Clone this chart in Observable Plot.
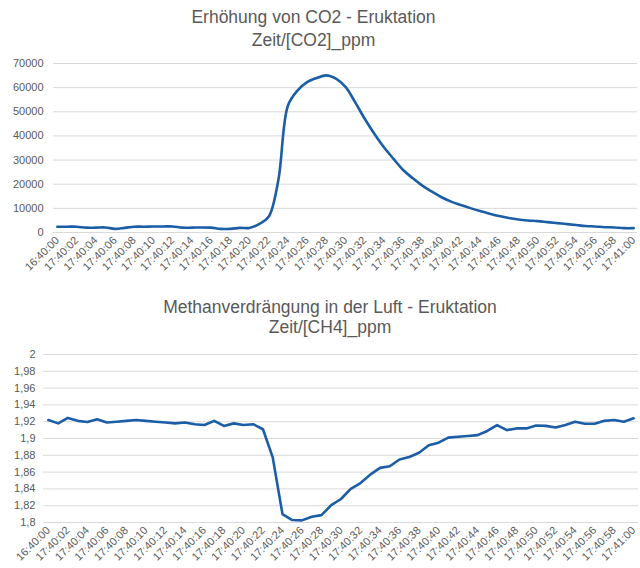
<!DOCTYPE html>
<html>
<head>
<meta charset="utf-8">
<script src="https://cdn.jsdelivr.net/npm/d3@7"></script>
<script src="https://cdn.jsdelivr.net/npm/@observablehq/plot@0.6"></script>
<style>
  html, body { margin: 0; padding: 0; background: #fff; }
  #wrap { position: relative; width: 640px; height: 568px; overflow: hidden; font-family: "Liberation Sans", Arial, sans-serif; }
  .title { position: absolute; text-align: center; color: #595959; font-size: 17.5px; line-height: 23px; }
  .chart { position: absolute; left: 0; }
</style>
</head>
<body>
<div id="wrap">
  <div class="title" id="t1" style="top:6px;left:0;width:627px">Erhöhung von CO2 - Eruktation<br>Zeit/[CO2]_ppm</div>
  <div class="chart" id="c1" style="top:52px"></div>
  <div class="title" id="t2" style="top:297px;left:20px;width:620px;line-height:20px">Methanverdrängung in der Luft - Eruktation<br>Zeit/[CH4]_ppm</div>
  <div class="chart" id="c2" style="top:345px"></div>
</div>
<script>
// Time categories (one per second)
const times = [
  "16:40:00","17:40:01","17:40:02","17:40:03","17:40:04","17:40:05","17:40:06","17:40:07","17:40:08","17:40:09",
  "17:40:10","17:40:11","17:40:12","17:40:13","17:40:14","17:40:15","17:40:16","17:40:17","17:40:18","17:40:19",
  "17:40:20","17:40:21","17:40:22","17:40:23","17:40:24","17:40:25","17:40:26","17:40:27","17:40:28","17:40:29",
  "17:40:30","17:40:31","17:40:32","17:40:33","17:40:34","17:40:35","17:40:36","17:40:37","17:40:38","17:40:39",
  "17:40:40","17:40:41","17:40:42","17:40:43","17:40:44","17:40:45","17:40:46","17:40:47","17:40:48","17:40:49",
  "17:40:50","17:40:51","17:40:52","17:40:53","17:40:54","17:40:55","17:40:56","17:40:57","17:40:58","17:40:59",
  "17:41:00"
];
// Tick labels shown on the x axis (every 2 s)
const xTickLabels = [
  "16:40:00","17:40:02","17:40:04","17:40:06","17:40:08","17:40:10","17:40:12","17:40:14","17:40:16","17:40:18",
  "17:40:20","17:40:22","17:40:24","17:40:26","17:40:28","17:40:30","17:40:32","17:40:34","17:40:36","17:40:38",
  "17:40:40","17:40:42","17:40:44","17:40:46","17:40:48","17:40:50","17:40:52","17:40:54","17:40:56","17:40:58",
  "17:41:00"
];
// CO2 in ppm
const co2 = [
  2400, 2400, 2400, 2000, 2000, 2100, 1500, 1900, 2400, 2400,
  2500, 2500, 2500, 2000, 2000, 2100, 2000, 1500, 1500, 1900,
  1900, 3500, 6500, 21500, 52500, 58800, 62300, 64000, 65100, 63700,
  60300, 54000, 47100, 40900, 35300, 30500, 25900, 22500, 19400, 16900,
  14600, 12800, 11400, 10100, 8900, 7800, 6800, 6000, 5400, 5000,
  4700, 4300, 3900, 3500, 3100, 2700, 2500, 2200, 2100, 1800,
  1800
];
// CH4 in ppm
const ch4 = [
  1.922, 1.918, 1.9245, 1.921, 1.9197, 1.923, 1.919, 1.920, 1.921, 1.922,
  1.921, 1.920, 1.919, 1.918, 1.919, 1.917, 1.916, 1.921, 1.915, 1.918,
  1.916, 1.917, 1.911, 1.8775, 1.810, 1.8029, 1.8025, 1.8068, 1.8088, 1.8207,
  1.828, 1.840, 1.847, 1.857, 1.865, 1.867, 1.875, 1.878, 1.883, 1.892,
  1.895, 1.901, 1.902, 1.903, 1.904, 1.909, 1.916, 1.910, 1.912, 1.912,
  1.9155, 1.915, 1.913, 1.916, 1.920, 1.9175, 1.9175, 1.921, 1.922, 1.920,
  1.924
];
const co2Ticks = [0, 10000, 20000, 30000, 40000, 50000, 60000, 70000];
const ch4Ticks = [1.8, 1.82, 1.84, 1.86, 1.88, 1.9, 1.92, 1.94, 1.96, 1.98, 2];

const lineColor = "#1b5da6";
const gridColor = "#d9d9d9";
const textColor = "#595959";

const co2Data = times.map((t, i) => ({t, v: co2[i]}));
const ch4Data = times.map((t, i) => ({t, v: ch4[i]}));

const baseStyle = {fontFamily: "'Liberation Sans', Arial, sans-serif", fontSize: "11px", color: textColor, background: "transparent", overflow: "visible"};

const chart1 = Plot.plot({
  width: 640, height: 235,
  marginLeft: 53, marginRight: 3, marginTop: 11, marginBottom: 55,
  style: baseStyle,
  x: {type: "point", domain: times, padding: 0.4},
  y: {domain: [0, 70000]},
  marks: [
    Plot.gridY(co2Ticks, {stroke: gridColor, strokeOpacity: 1, strokeWidth: 1}),
    Plot.axisY(co2Ticks, {tickSize: 0, tickPadding: 10, tickFormat: d => String(d), label: null, fill: textColor}),
    Plot.axisX(xTickLabels, {tickSize: 0, tickPadding: 6, tickRotate: -45, label: null, fill: textColor}),
    Plot.lineY(co2Data, {x: "t", y: "v", stroke: lineColor, strokeWidth: 2.6, curve: "catmull-rom"})
  ]
});
document.getElementById("c1").appendChild(chart1);

const chart2 = Plot.plot({
  width: 640, height: 223,
  marginLeft: 43, marginRight: 2, marginTop: 9, marginBottom: 46,
  style: baseStyle,
  x: {type: "point", domain: times, padding: 0.5},
  y: {domain: [1.8, 2]},
  marks: [
    Plot.gridY(ch4Ticks, {stroke: gridColor, strokeOpacity: 1, strokeWidth: 1}),
    Plot.axisY(ch4Ticks, {tickSize: 0, tickPadding: 8, tickFormat: d => String(+d.toFixed(2)).replace(".", ","), label: null, fill: textColor}),
    Plot.axisX(xTickLabels, {tickSize: 0, tickPadding: 6, tickRotate: -45, label: null, fill: textColor}),
    Plot.lineY(ch4Data, {x: "t", y: "v", stroke: lineColor, strokeWidth: 2.6})
  ]
});
document.getElementById("c2").appendChild(chart2);
</script>
</body>
</html>
